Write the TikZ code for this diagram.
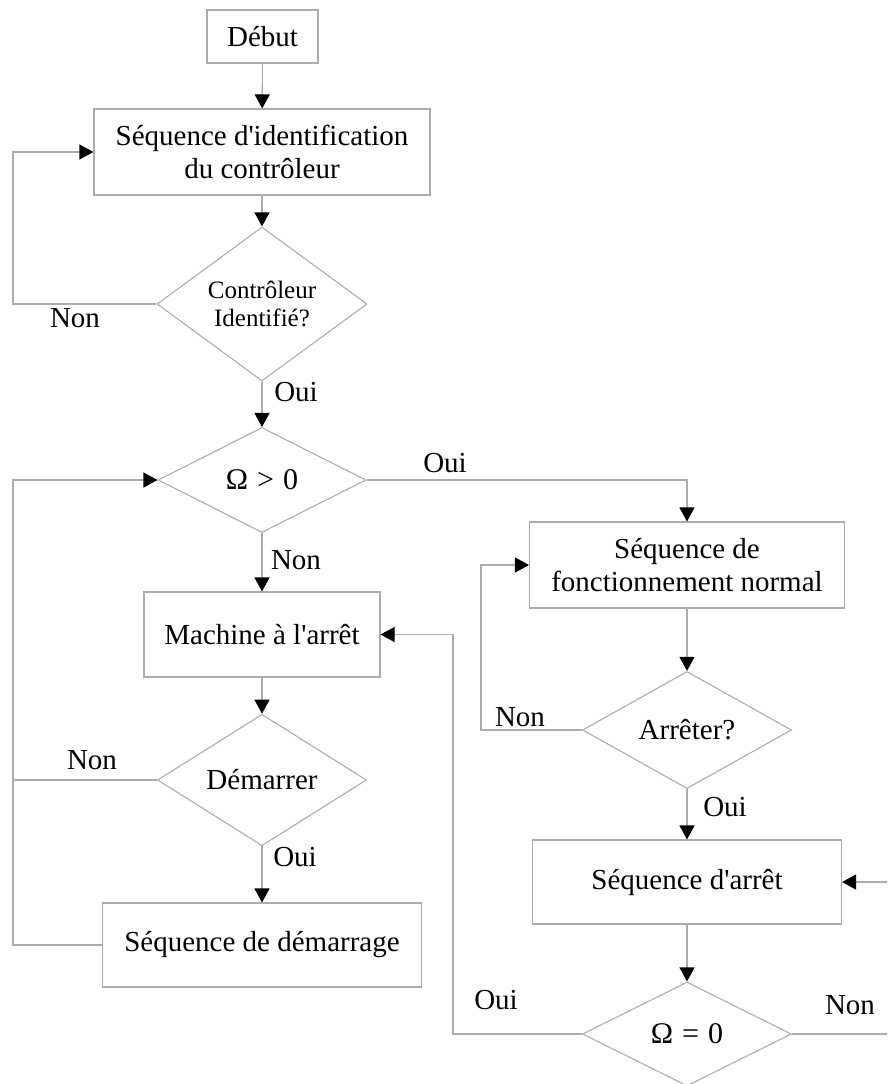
\documentclass[tikz,border=0pt]{standalone}
\usepackage{fontspec}
\setmainfont{Liberation Serif}
\usetikzlibrary{arrows.meta,shapes.geometric}
\newcommand{\apos}{\textquotesingle}
\newcommand{\relgap}{\hspace{0.3em}}

\begin{document}
\begin{tikzpicture}[x=1pt,y=-1pt,
  line/.style={draw=gray!65, line width=1.1pt},
  flow/.style={line, -{Triangle[length=14pt,width=15pt,color=black]}},
  txt/.style={font=\fontsize{29}{33}\selectfont},
  box/.style={line, rectangle, inner sep=0pt, align=center, txt},
  decision/.style={line, diamond, inner sep=0pt, align=center, txt},
  lbl/.style={inner sep=0pt, txt}]

\clip (0,0) rectangle (887,1084);

% left column
\node[box, minimum width=111pt, minimum height=53pt] (debut) at (262.5,36.5) {Début};
\node[box, minimum width=336pt, minimum height=86pt] (ident) at (262,152)
  {Séquence d\apos identification\\du contrôleur};
\node[decision, minimum width=210pt, minimum height=104pt,
  font=\fontsize{25}{28}\selectfont] (ctrl) at (262,304) {Contrôleur\\Identifié?};
\node[decision, minimum width=208pt, minimum height=105pt,
  font=\fontsize{30}{33}\selectfont] (omgt) at (262,480) {Ω\relgap>\relgap 0};
\node[box, minimum width=236pt, minimum height=85pt] (arretm) at (262,634.5) {Machine à l\apos arrêt};
\node[decision, minimum width=209pt, minimum height=105pt] (demar) at (262,780) {Démarrer};
\node[box, minimum width=319pt, minimum height=84pt] (seqdem) at (262,945) {Séquence de démarrage};

% right column
\node[box, minimum width=315pt, minimum height=86pt] (fonct) at (687,565)
  {Séquence de\\fonctionnement normal};
\node[decision, minimum width=209pt, minimum height=105pt] (stopq) at (687,730) {Arrêter?};
\node[box, minimum width=309pt, minimum height=84pt] (seqarr) at (687,882) {Séquence d\apos arrêt};
\node[decision, minimum width=209pt, minimum height=104pt,
  font=\fontsize{30}{33}\selectfont] (omeq) at (687,1034) {Ω\relgap=\relgap 0};

% turning points of the return paths
\coordinate (leftA) at (13,304);
\coordinate (leftB) at (13,480);
\coordinate (midA) at (481,730);
\coordinate (midB) at (453,1034);
\coordinate (outR) at (900,1034);
\coordinate (topR) at (687,480);

% main flow
\draw[flow] (debut) -- (ident);
\draw[flow] (ident) -- (ctrl);
\draw[flow] (ctrl) -- (omgt);
\draw[flow] (omgt) -- (arretm);
\draw[flow] (arretm) -- (demar);
\draw[flow] (demar) -- (seqdem);
\draw[flow] (omgt.east) -- (topR) -- (fonct.north);
\draw[flow] (fonct) -- (stopq);
\draw[flow] (stopq) -- (seqarr);
\draw[flow] (seqarr) -- (omeq);

% loops
\draw[flow] (ctrl.west) -- (leftA) |- (ident.west);
\draw[flow] (seqdem.west) -| (leftB) -- (omgt.west);
\draw[line] (demar.west) -- (demar.west -| leftB);
\draw[flow] (stopq.west) -- (midA) |- (fonct.west);
\draw[flow] (omeq.west) -- (midB) |- (arretm.east);
\draw[flow] (omeq.east) -- (outR) |- (seqarr.east);

% branch labels
\node[lbl] (l1) at (75,318) {Non};
\node[lbl] (l2) at (296,392) {Oui};
\node[lbl] (l3) at (445,463) {Oui};
\node[lbl] (l4) at (296,560) {Non};
\node[lbl] (l5) at (92,760) {Non};
\node[lbl] (l6) at (295,857) {Oui};
\node[lbl] (l7) at (520,717) {Non};
\node[lbl] (l8) at (725,807) {Oui};
\node[lbl] (l9) at (496,1000) {Oui};
\node[lbl] (l10) at (850,1005) {Non};
\end{tikzpicture}
\end{document}
